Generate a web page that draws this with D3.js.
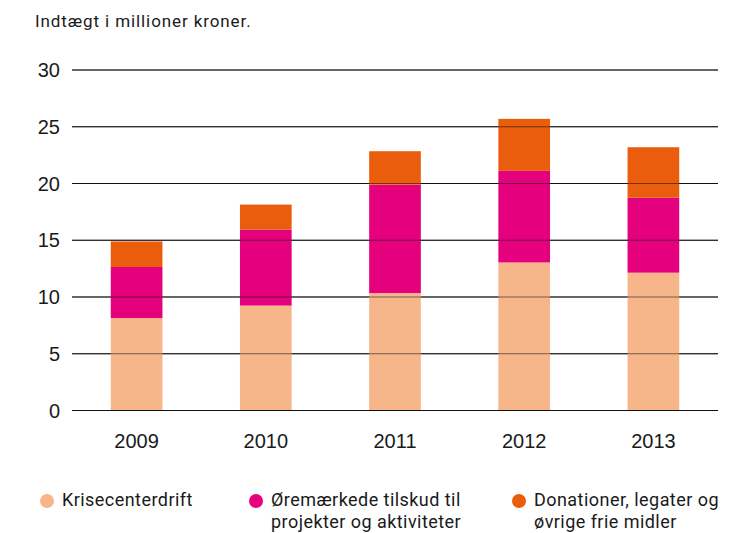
<!DOCTYPE html>
<html>
<head>
<meta charset="utf-8">
<script src="https://cdn.jsdelivr.net/npm/d3@7"></script>
<style>
  body { margin: 0; background: #fff; }
  svg { font-family: 'Roboto', 'DejaVu Sans', sans-serif; }
  .tick text { fill: #1a1a1a; }
</style>
</head>
<body>
<svg width="737" height="533"></svg>
<script>
(function(d3) {
  'use strict';

  const years = ['2009', '2010', '2011', '2012', '2013'];
  const krisecenterdrift = [8.1, 9.2, 10.3, 13.0, 12.1];
  const oremaerkede = [4.5, 6.7, 9.55, 8.07, 6.6];
  const donationer = [2.25, 2.2, 2.95, 4.58, 4.45];
  const yTicks = [0, 5, 10, 15, 20, 25, 30];

  const keys = ['krise', 'oremaerk', 'donation'];
  const colors = ['#f7b68a', '#e5007d', '#e95d0c'];
  const legendLabels = [
    ['Krisecenterdrift'],
    ['Øremærkede tilskud til', 'projekter og aktiviteter'],
    ['Donationer, legater og', 'øvrige frie midler']
  ];

  const data = years.map(function(y, i) {
    return {
      year: y,
      krise: krisecenterdrift[i],
      oremaerk: oremaerkede[i],
      donation: donationer[i]
    };
  });

  const svg = d3.select('svg');
  const margin = {left: 72, right: 19, top: 69.5, bottom: 123};
  const width = +svg.attr('width');
  const height = +svg.attr('height');
  const innerWidth = width - margin.left - margin.right;
  const innerHeight = height - margin.top - margin.bottom;

  const g = svg.append('g')
      .attr('transform', `translate(${margin.left},${margin.top})`);

  const xScale = d3.scaleBand().domain(years).range([0, innerWidth])
      .paddingInner(0.6).paddingOuter(0.3);
  const yScale = d3.scaleLinear().domain([0, 30]).range([innerHeight, 0]);

  // title
  svg.append('text')
      .attr('x', 35).attr('y', 27)
      .attr('font-size', 17).attr('fill', '#1a1a1a')
      .attr('letter-spacing', 0.9)
      .text('Indtægt i millioner kroner.');

  // gridlines + y labels
  const yAxis = d3.axisLeft(yScale).tickValues(yTicks)
      .tickSize(-innerWidth).tickPadding(12);
  const yAxisG = g.append('g').call(yAxis);
  yAxisG.select('.domain').remove();
  yAxisG.selectAll('.tick line').attr('stroke', '#111').attr('stroke-width', 1);
  yAxisG.selectAll('.tick text').attr('font-size', 20).attr('dy', '0.35em');

  // bars
  const stacked = d3.stack().keys(keys)(data);
  g.append('g').selectAll('g').data(stacked).join('g')
      .attr('fill', function(d, i) { return colors[i]; })
      .selectAll('rect').data(function(d) { return d; }).join('rect')
      .attr('x', function(d) { return xScale(d.data.year); })
      .attr('width', xScale.bandwidth())
      .attr('y', function(d) { return yScale(d[1]); })
      .attr('height', function(d) { return yScale(d[0]) - yScale(d[1]); });

  // redraw gridlines on top (they show through the bars)
  const overlay = g.append('g').call(yAxis);
  overlay.select('.domain').remove();
  overlay.selectAll('.tick text').remove();
  overlay.selectAll('.tick line').attr('stroke', '#111').attr('stroke-opacity', 0.55);

  // x axis labels
  const xAxisG = g.append('g')
      .attr('transform', `translate(0,${innerHeight})`)
      .call(d3.axisBottom(xScale).tickSize(0).tickPadding(24));
  xAxisG.select('.domain').remove();
  xAxisG.selectAll('.tick text').attr('font-size', 20);

  // legend
  const legendX = [47, 256, 519];
  const legend = svg.append('g').selectAll('g').data(legendLabels).join('g')
      .attr('transform', function(d, i) { return `translate(${legendX[i]},501)`; });
  legend.append('circle')
      .attr('r', 7)
      .attr('fill', function(d, i) { return colors[i]; });
  legend.append('text')
      .attr('font-size', 18).attr('fill', '#1a1a1a')
      .attr('letter-spacing', 0.45)
      .selectAll('tspan').data(function(d) { return d; }).join('tspan')
      .attr('x', 15)
      .attr('y', function(d, i) { return 5 + i * 22; })
      .text(function(d) { return d; });
}(d3));
</script>
</body>
</html>
